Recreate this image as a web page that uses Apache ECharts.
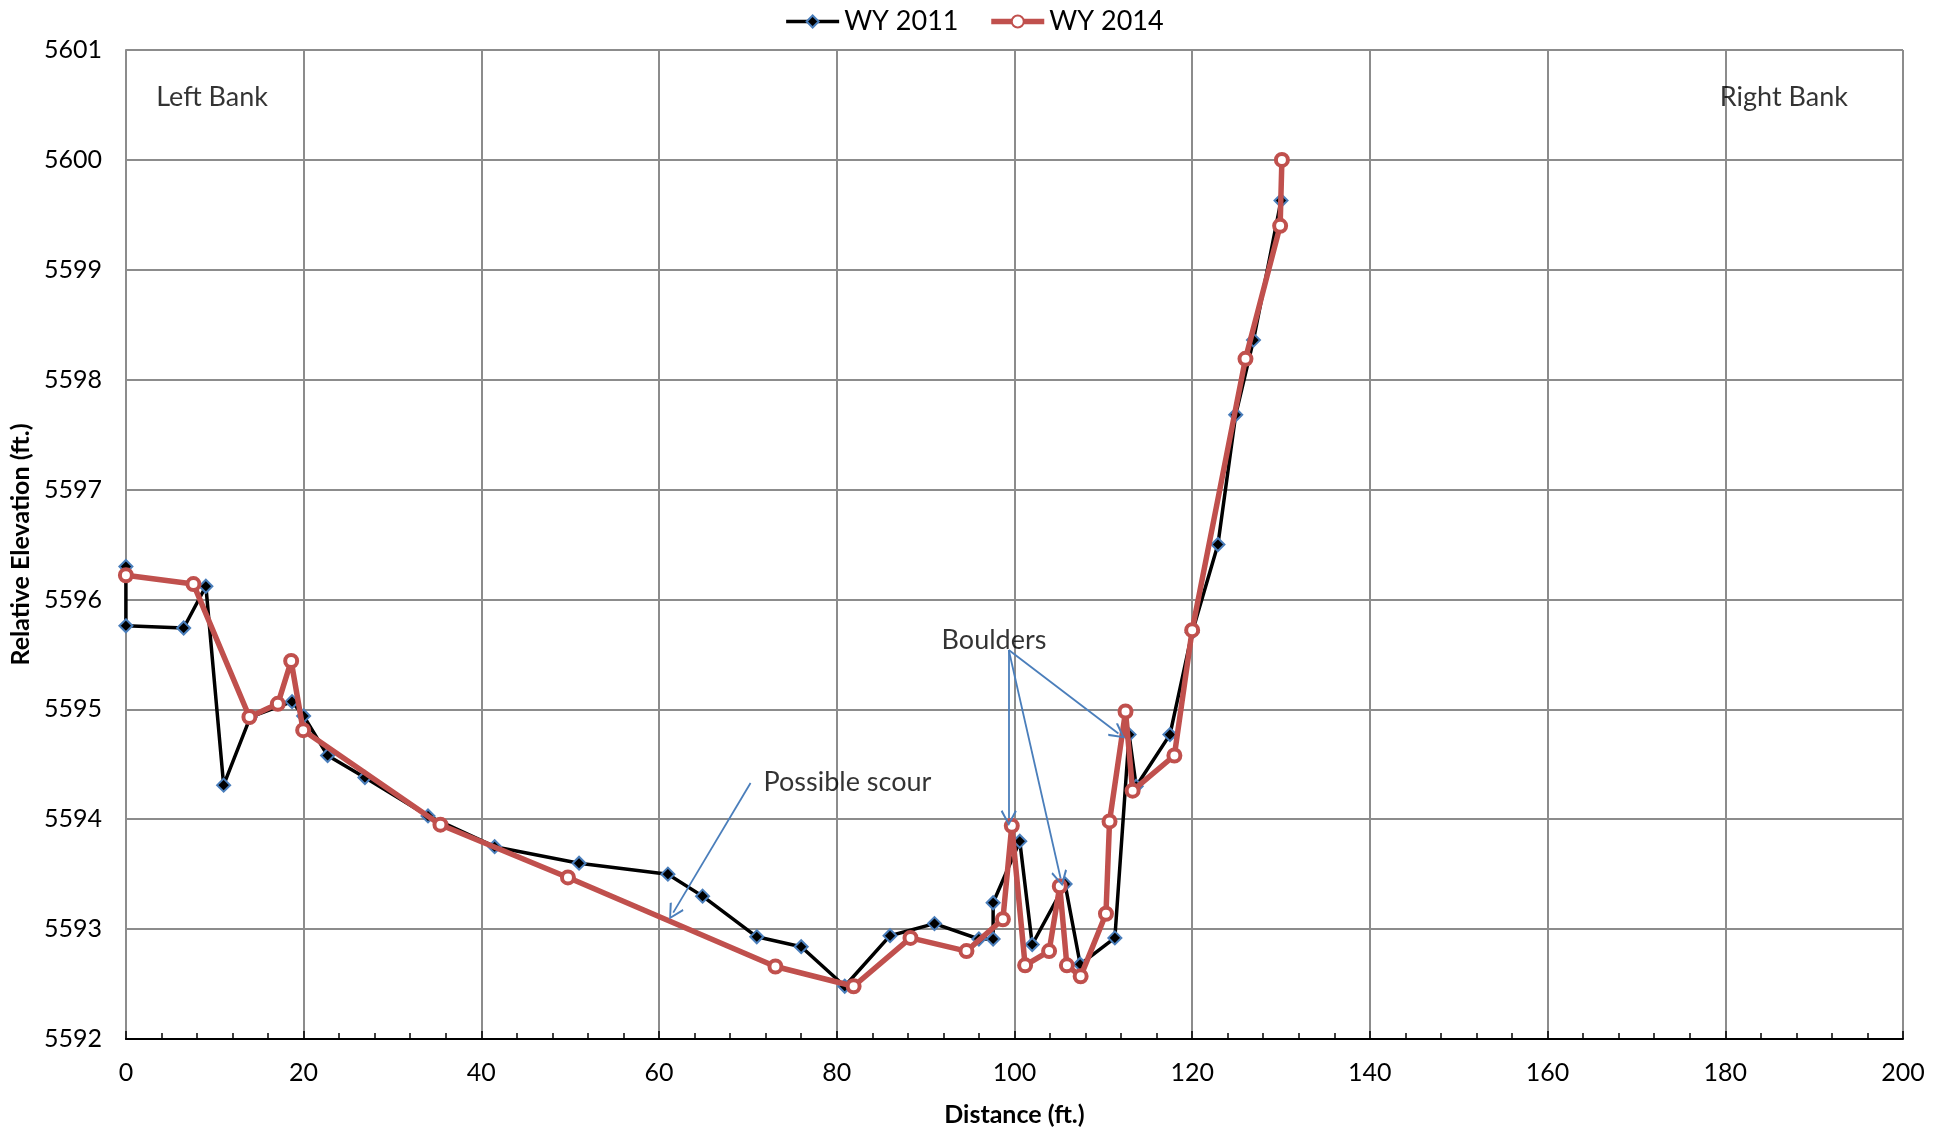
<!DOCTYPE html>
<html>
<head>
<meta charset="utf-8">
<script src="https://cdn.jsdelivr.net/npm/echarts@6/dist/echarts.min.js"></script>
<style>
html,body{margin:0;padding:0;background:#fff;}
#chart{width:1948px;height:1132px;}
</style>
</head>
<body>
<div id="chart"></div>
<script>
// ---- Data ----
const wy2011X = [0, 0, 6.5, 9.0, 11.0, 14.0, 18.7, 20.0, 22.7, 26.9, 34.0, 41.5, 51.0, 61.0, 64.9, 71.0, 76.0, 80.9, 86.0, 91.0, 96.0, 97.6, 97.6, 100.6, 102.0, 105.7, 107.4, 111.3, 112.9, 113.7, 117.5, 120.0, 122.9, 124.9, 126.9, 130.0];
const wy2011Y = [5596.30, 5595.76, 5595.74, 5596.12, 5594.31, 5594.93, 5595.07, 5594.94, 5594.58, 5594.38, 5594.03, 5593.75, 5593.60, 5593.50, 5593.30, 5592.93, 5592.84, 5592.48, 5592.94, 5593.05, 5592.91, 5592.91, 5593.24, 5593.80, 5592.86, 5593.41, 5592.68, 5592.92, 5594.77, 5594.30, 5594.77, 5595.70, 5596.50, 5597.68, 5598.36, 5599.63];

const wy2014X = [0, 7.6, 13.9, 17.1, 18.6, 19.95, 35.4, 49.75, 73.1, 81.9, 88.3, 94.6, 98.7, 99.7, 101.2, 103.9, 105.1, 105.9, 107.45, 110.3, 110.7, 112.5, 113.3, 118.0, 120.0, 126.0, 129.9, 130.1];
const wy2014Y = [5596.22, 5596.14, 5594.93, 5595.05, 5595.44, 5594.81, 5593.95, 5593.47, 5592.66, 5592.48, 5592.92, 5592.80, 5593.09, 5593.94, 5592.67, 5592.80, 5593.39, 5592.67, 5592.57, 5593.14, 5593.98, 5594.98, 5594.26, 5594.58, 5595.72, 5598.19, 5599.40, 5600.00];

const seriesNames = ['WY 2011', 'WY 2014'];
const xTicks = { min: 0, max: 200, interval: 20 };
const yTicks = { min: 5592, max: 5601, interval: 1 };

// annotation texts (data coordinates of text centre)
const noteTexts = ['Left Bank', 'Right Bank', 'Boulders', 'Possible scour'];
const noteX = [9.7, 186.6, 97.7, 81.2];
const noteY = [5600.57, 5600.57, 5595.63, 5594.34];

// arrows: from / to in data coordinates
const arrowFrom = [[70.3, 5594.33], [99.36, 5595.54], [99.36, 5595.54], [99.36, 5595.54]];
const arrowTo   = [[61.6, 5593.15], [99.36, 5594.01], [105.2, 5593.46], [111.7, 5594.78]];

// ---- Chart ----
const FONT = 'Lato, "Open Sans", sans-serif';
const zip = (a, b) => a.map((v, i) => [v, b[i]]);
const chevron = 'path://M5,0 L10,10 L9,11 L5,2.6 L1,11 L0,10 Z';

const chart = echarts.init(document.getElementById('chart'), null, { renderer: 'canvas' });
chart.setOption({
  animation: false,
  backgroundColor: '#ffffff',
  textStyle: { fontFamily: FONT },
  legend: {
    data: [
      { name: seriesNames[0], lineStyle: { width: 3.5, color: '#000' } },
      { name: seriesNames[1], lineStyle: { width: 5.5, color: '#c0504d' } }
    ],
    top: 3,
    left: 'center',
    itemWidth: 53,
    itemHeight: 15,
    itemGap: 30,
    textStyle: { fontFamily: FONT, fontSize: 27, color: '#000' }
  },
  grid: { left: 125, right: 45, top: 50, bottom: 91 },
  xAxis: {
    type: 'value',
    min: xTicks.min, max: xTicks.max, interval: xTicks.interval,
    name: 'Distance (ft.)',
    nameLocation: 'middle',
    nameGap: 63,
    nameTextStyle: { fontFamily: FONT, fontSize: 25, fontWeight: 'bold', color: '#000' },
    axisLine: { show: true, lineStyle: { color: '#000', width: 2 } },
    axisTick: { show: true, inside: true, length: 8, lineStyle: { color: '#000', width: 1.5 } },
    minorTick: { show: true, splitNumber: 5, length: 6, lineStyle: { color: '#000', width: 1.5 } },
    axisLabel: { fontFamily: FONT, fontSize: 25, color: '#000', margin: 21 },
    splitLine: { show: true, lineStyle: { color: '#8c8c8c', width: 2 } }
  },
  yAxis: {
    type: 'value',
    min: yTicks.min, max: yTicks.max, interval: yTicks.interval,
    name: 'Relative Elevation (ft.)',
    nameLocation: 'middle',
    nameGap: 90,
    nameTextStyle: { fontFamily: FONT, fontSize: 25, fontWeight: 'bold', color: '#000' },
    axisLine: { show: true, lineStyle: { color: '#8c8c8c', width: 2 } },
    axisTick: { show: false },
    axisLabel: { fontFamily: FONT, fontSize: 25, color: '#000', margin: 24,
      formatter: v => String(v) },
    splitLine: { show: true, lineStyle: { color: '#8c8c8c', width: 2 } }
  },
  series: [
    {
      name: seriesNames[0],
      type: 'line',
      data: zip(wy2011X, wy2011Y),
      symbol: 'diamond',
      symbolSize: 13,
      showAllSymbol: true,
      lineStyle: { color: '#000', width: 3.5 },
      itemStyle: { color: '#000', borderColor: '#4a7ebb', borderWidth: 2 },
      z: 2,
      markLine: {
        silent: true,
        symbol: ['none', chevron],
        symbolSize: [16, 16],
        label: { show: false },
        lineStyle: { color: '#4a7ebb', width: 1.8, type: 'solid' },
        data: arrowFrom.map((f, i) => [{ coord: f }, { coord: arrowTo[i] }])
      }
    },
    {
      name: seriesNames[1],
      type: 'line',
      data: zip(wy2014X, wy2014Y),
      symbol: 'circle',
      symbolSize: 12,
      showAllSymbol: true,
      lineStyle: { color: '#c0504d', width: 5.5 },
      itemStyle: { color: '#ffffff', borderColor: '#c0504d', borderWidth: 4 },
      z: 3
    },
    {
      name: 'notes',
      type: 'scatter',
      silent: true,
      symbolSize: 0,
      data: noteTexts.map((t, i) => ({ name: t, value: [noteX[i], noteY[i]] })),
      label: {
        show: true,
        position: 'inside',
        formatter: p => p.name,
        fontFamily: FONT,
        fontSize: 27,
        color: '#000'
      },
      z: 5
    }
  ]
});
</script>
</body>
</html>
